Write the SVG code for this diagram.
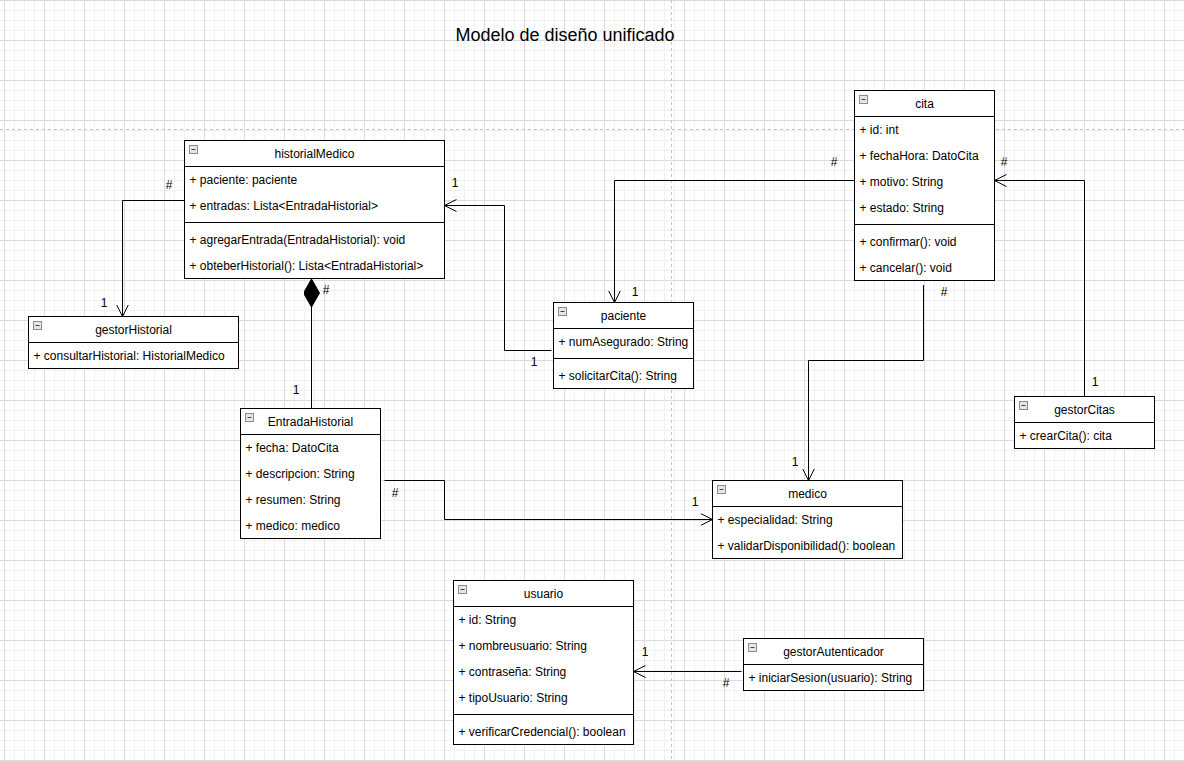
<svg xmlns="http://www.w3.org/2000/svg" width="1184" height="761" viewBox="0 0 1184 761">
  <defs>
    <style>
      .box{fill:#fff;stroke:#000;stroke-width:1}
      .sep{stroke:#000;stroke-width:1}
      .ico{fill:#e6e6e6;stroke:#8c8c8c;stroke-width:1}
      .icoline{stroke:#444;stroke-width:1}
      text{font-family:"Liberation Sans",Arial,Helvetica,sans-serif;font-size:12px;fill:#000}
      .name{text-anchor:middle}
      .lbl{text-anchor:middle}
      .title{font-size:18px;text-anchor:middle}
      .conn{fill:none;stroke:#000;stroke-width:1}
      .page{stroke:#c4c4c4;stroke-width:1;stroke-dasharray:3 3}
    </style>
    <pattern id="grid" x="4" y="0" width="40" height="40" patternUnits="userSpaceOnUse">
      <path d="M10.5,0V40M20.5,0V40M30.5,0V40M0,10.5H40M0,20.5H40M0,30.5H40" stroke="#f1f1f1" stroke-width="1" fill="none"/>
      <path d="M0.5,0V40M0,0.5H40" stroke="#dcdcdc" stroke-width="1" fill="none"/>
    </pattern>
    <marker id="open" markerWidth="14" markerHeight="14" refX="12" refY="7" orient="auto" markerUnits="userSpaceOnUse">
      <path d="M0,1 L12,7 L0,13" fill="none" stroke="#000" stroke-width="1"/>
    </marker>
    <marker id="diamond" markerWidth="30" markerHeight="18" refX="28" refY="8" orient="auto" markerUnits="userSpaceOnUse">
      <path d="M0,8 L14,0 L28,8 L14,16 Z" fill="#000" stroke="#000" stroke-width="1"/>
    </marker>
    <g id="icon">
      <rect class="ico" x="5" y="5" width="8" height="8"/>
      <line class="icoline" x1="7" y1="9" x2="11" y2="9"/>
    </g>
  </defs>

  <!-- canvas background, grid and page breaks -->
  <rect width="1184" height="761" fill="#fff"/>
  <rect width="1184" height="761" fill="url(#grid)"/>
  <line class="page" x1="0" y1="129.5" x2="1184" y2="129.5"/>
  <line class="page" x1="671.5" y1="0" x2="671.5" y2="761"/>

  <text class="title" x="565" y="41">Modelo de diseño unificado</text>

  <!-- associations -->
  <g id="connectors">
    <path class="conn" d="M184.5,200.5 H122.5 V316.5" marker-end="url(#open)"/>
    <path class="conn" d="M551.5,350.5 H504.5 V205.5 H444.5" marker-end="url(#open)"/>
    <path class="conn" d="M854.5,180.5 H614.5 V302.5" marker-end="url(#open)"/>
    <path class="conn" d="M1084.5,396.5 V180.5 H994.5" marker-end="url(#open)"/>
    <path class="conn" d="M923.5,285 V360.5 H808.5 V480.5" marker-end="url(#open)"/>
    <path class="conn" d="M384.5,480.5 H444.5 V519.5 H712.5" marker-end="url(#open)"/>
    <path class="conn" d="M311.5,408.5 V279" marker-end="url(#diamond)"/>
    <path class="conn" d="M741.5,671.5 H633.5" marker-end="url(#open)"/>

    <text class="lbl" x="169" y="189">#</text>
    <text class="lbl" x="104" y="307">1</text>
    <text class="lbl" x="455" y="187">1</text>
    <text class="lbl" x="534" y="366">1</text>
    <text class="lbl" x="834" y="166">#</text>
    <text class="lbl" x="635" y="296">1</text>
    <text class="lbl" x="1004" y="166">#</text>
    <text class="lbl" x="1095" y="386">1</text>
    <text class="lbl" x="944" y="296">#</text>
    <text class="lbl" x="795" y="466">1</text>
    <text class="lbl" x="395" y="497">#</text>
    <text class="lbl" x="695" y="506">1</text>
    <text class="lbl" x="326" y="294">#</text>
    <text class="lbl" x="296" y="394">1</text>
    <text class="lbl" x="645" y="656">1</text>
    <text class="lbl" x="726" y="687">#</text>
  </g>

  <!-- classes -->
  <g id="historialMedico" transform="translate(184.5,140.5)">
    <rect class="box" width="260" height="138"/>
    <use href="#icon"/>
    <text class="name" x="130" y="17">historialMedico</text>
    <line class="sep" x1="0" y1="26" x2="260" y2="26"/>
    <text x="5" y="43">+ paciente: paciente</text>
    <text x="5" y="69">+ entradas: Lista&lt;EntradaHistorial&gt;</text>
    <line class="sep" x1="0" y1="82" x2="260" y2="82"/>
    <text x="5" y="103">+ agregarEntrada(EntradaHistorial): void</text>
    <text x="5" y="129">+ obteberHistorial(): Lista&lt;EntradaHistorial&gt;</text>
  </g>

  <g id="gestorHistorial" transform="translate(28.5,316.5)">
    <rect class="box" width="210" height="52"/>
    <use href="#icon"/>
    <text class="name" x="105" y="17">gestorHistorial</text>
    <line class="sep" x1="0" y1="26" x2="210" y2="26"/>
    <text x="5" y="43">+ consultarHistorial: HistorialMedico</text>
  </g>

  <g id="paciente" transform="translate(553.5,302.5)">
    <rect class="box" width="140" height="86"/>
    <use href="#icon"/>
    <text class="name" x="70" y="17">paciente</text>
    <line class="sep" x1="0" y1="26" x2="140" y2="26"/>
    <text x="5" y="43">+ numAsegurado: String</text>
    <line class="sep" x1="0" y1="56" x2="140" y2="56"/>
    <text x="5" y="77">+ solicitarCita(): String</text>
  </g>

  <g id="cita" transform="translate(854.5,90.5)">
    <rect class="box" width="140" height="190"/>
    <use href="#icon"/>
    <text class="name" x="70" y="17">cita</text>
    <line class="sep" x1="0" y1="26" x2="140" y2="26"/>
    <text x="5" y="43">+ id: int</text>
    <text x="5" y="69">+ fechaHora: DatoCita</text>
    <text x="5" y="95">+ motivo: String</text>
    <text x="5" y="121">+ estado: String</text>
    <line class="sep" x1="0" y1="134" x2="140" y2="134"/>
    <text x="5" y="155">+ confirmar(): void</text>
    <text x="5" y="181">+ cancelar(): void</text>
  </g>

  <g id="EntradaHistorial" transform="translate(240.5,408.5)">
    <rect class="box" width="140" height="130"/>
    <use href="#icon"/>
    <text class="name" x="70" y="17">EntradaHistorial</text>
    <line class="sep" x1="0" y1="26" x2="140" y2="26"/>
    <text x="5" y="43">+ fecha: DatoCita</text>
    <text x="5" y="69">+ descripcion: String</text>
    <text x="5" y="95">+ resumen: String</text>
    <text x="5" y="121">+ medico: medico</text>
  </g>

  <g id="medico" transform="translate(712.5,480.5)">
    <rect class="box" width="190" height="78"/>
    <use href="#icon"/>
    <text class="name" x="95" y="17">medico</text>
    <line class="sep" x1="0" y1="26" x2="190" y2="26"/>
    <text x="5" y="43">+ especialidad: String</text>
    <text x="5" y="69">+ validarDisponibilidad(): boolean</text>
  </g>

  <g id="gestorCitas" transform="translate(1014.5,396.5)">
    <rect class="box" width="140" height="52"/>
    <use href="#icon"/>
    <text class="name" x="70" y="17">gestorCitas</text>
    <line class="sep" x1="0" y1="26" x2="140" y2="26"/>
    <text x="5" y="43">+ crearCita(): cita</text>
  </g>

  <g id="usuario" transform="translate(453.5,580.5)">
    <rect class="box" width="180" height="164"/>
    <use href="#icon"/>
    <text class="name" x="90" y="17">usuario</text>
    <line class="sep" x1="0" y1="26" x2="180" y2="26"/>
    <text x="5" y="43">+ id: String</text>
    <text x="5" y="69">+ nombreusuario: String</text>
    <text x="5" y="95">+ contraseña: String</text>
    <text x="5" y="121">+ tipoUsuario: String</text>
    <line class="sep" x1="0" y1="134" x2="180" y2="134"/>
    <text x="5" y="155">+ verificarCredencial(): boolean</text>
  </g>

  <g id="gestorAutenticador" transform="translate(743.5,638.5)">
    <rect class="box" width="180" height="52"/>
    <use href="#icon"/>
    <text class="name" x="90" y="17">gestorAutenticador</text>
    <line class="sep" x1="0" y1="26" x2="180" y2="26"/>
    <text x="5" y="43">+ iniciarSesion(usuario): String</text>
  </g>
</svg>
